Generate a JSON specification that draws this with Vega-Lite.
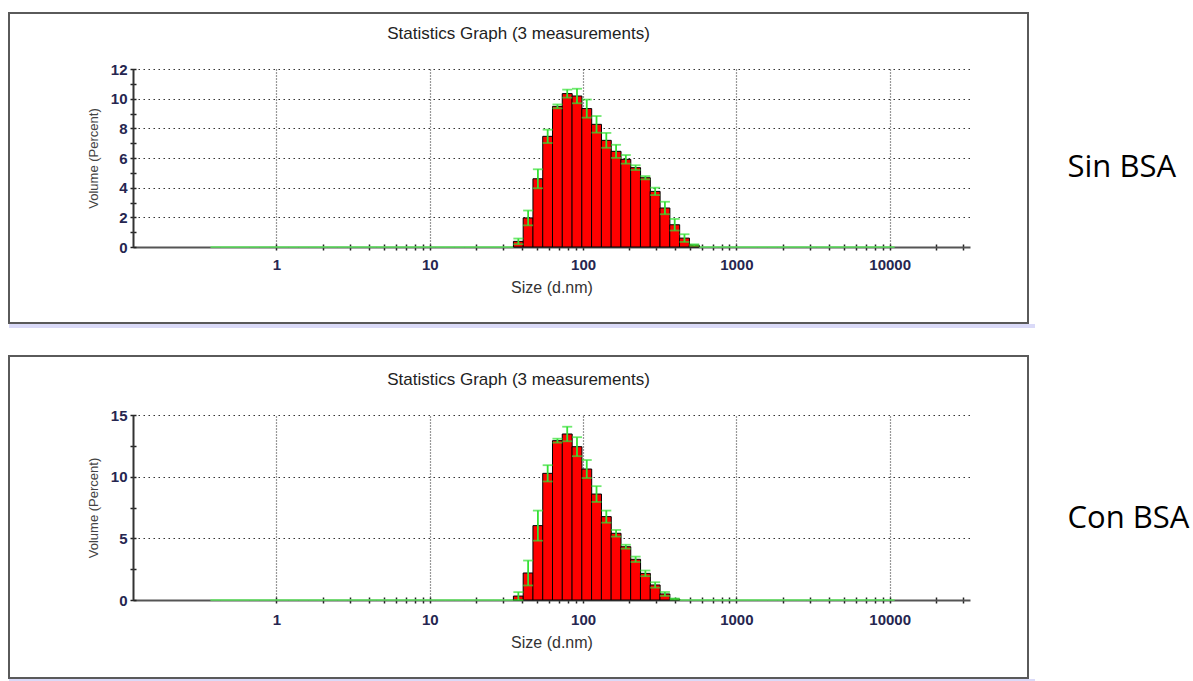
{
  "$schema": "https://vega.github.io/schema/vega-lite/v6.json",
  "background": "white",
  "padding": {"left": 8, "top": 12, "right": 0, "bottom": 0},
  "spacing": 27,
  "config": {
    "view": {"stroke": null},
    "font": "Liberation Sans"
  },
  "datasets": {
    "sin": [
      {"size": 0.4, "volume": 0, "sd": 0}, {"size": 0.4632, "volume": 0, "sd": 0}, {"size": 0.5365, "volume": 0, "sd": 0},
      {"size": 0.6213, "volume": 0, "sd": 0}, {"size": 0.7195, "volume": 0, "sd": 0}, {"size": 0.8332, "volume": 0, "sd": 0},
      {"size": 0.9649, "volume": 0, "sd": 0}, {"size": 1.117, "volume": 0, "sd": 0}, {"size": 1.294, "volume": 0, "sd": 0},
      {"size": 1.499, "volume": 0, "sd": 0}, {"size": 1.736, "volume": 0, "sd": 0}, {"size": 2.01, "volume": 0, "sd": 0},
      {"size": 2.328, "volume": 0, "sd": 0}, {"size": 2.696, "volume": 0, "sd": 0}, {"size": 3.122, "volume": 0, "sd": 0},
      {"size": 3.615, "volume": 0, "sd": 0}, {"size": 4.187, "volume": 0, "sd": 0}, {"size": 4.849, "volume": 0, "sd": 0},
      {"size": 5.615, "volume": 0, "sd": 0}, {"size": 6.503, "volume": 0, "sd": 0}, {"size": 7.531, "volume": 0, "sd": 0},
      {"size": 8.721, "volume": 0, "sd": 0}, {"size": 10.1, "volume": 0, "sd": 0}, {"size": 11.7, "volume": 0, "sd": 0},
      {"size": 13.54, "volume": 0, "sd": 0}, {"size": 15.69, "volume": 0, "sd": 0}, {"size": 18.17, "volume": 0, "sd": 0},
      {"size": 21.04, "volume": 0, "sd": 0}, {"size": 24.36, "volume": 0, "sd": 0}, {"size": 28.21, "volume": 0, "sd": 0},
      {"size": 32.67, "volume": 0, "sd": 0},
      {"size": 37.84, "volume": 0.38, "sd": 0.19}, {"size": 43.82, "volume": 1.96, "sd": 0.5},
      {"size": 50.75, "volume": 4.6, "sd": 0.64}, {"size": 58.77, "volume": 7.46, "sd": 0.45},
      {"size": 68.06, "volume": 9.48, "sd": 0.13}, {"size": 78.82, "volume": 10.34, "sd": 0.27},
      {"size": 91.28, "volume": 10.18, "sd": 0.49}, {"size": 105.7, "volume": 9.33, "sd": 0.61},
      {"size": 122.4, "volume": 8.27, "sd": 0.56}, {"size": 141.8, "volume": 7.19, "sd": 0.5},
      {"size": 164.2, "volume": 6.45, "sd": 0.44}, {"size": 190.1, "volume": 5.91, "sd": 0.29},
      {"size": 220.2, "volume": 5.35, "sd": 0.16}, {"size": 255, "volume": 4.67, "sd": 0.11},
      {"size": 295.3, "volume": 3.75, "sd": 0.25}, {"size": 342, "volume": 2.63, "sd": 0.42},
      {"size": 396.1, "volume": 1.5, "sd": 0.39}, {"size": 458.7, "volume": 0.6, "sd": 0.26},
      {"size": 531.2, "volume": 0.13, "sd": 0.05},
      {"size": 615.1, "volume": 0, "sd": 0}, {"size": 712.4, "volume": 0, "sd": 0}, {"size": 825, "volume": 0, "sd": 0},
      {"size": 955.4, "volume": 0, "sd": 0}, {"size": 1106, "volume": 0, "sd": 0}, {"size": 1281, "volume": 0, "sd": 0},
      {"size": 1484, "volume": 0, "sd": 0}, {"size": 1718, "volume": 0, "sd": 0}, {"size": 1990, "volume": 0, "sd": 0},
      {"size": 2305, "volume": 0, "sd": 0}, {"size": 2669, "volume": 0, "sd": 0}, {"size": 3091, "volume": 0, "sd": 0},
      {"size": 3580, "volume": 0, "sd": 0}, {"size": 4145, "volume": 0, "sd": 0}, {"size": 4801, "volume": 0, "sd": 0},
      {"size": 5560, "volume": 0, "sd": 0}, {"size": 6439, "volume": 0, "sd": 0}, {"size": 7456, "volume": 0, "sd": 0},
      {"size": 8635, "volume": 0, "sd": 0}, {"size": 10000, "volume": 0, "sd": 0}
    ],
    "con": [
      {"size": 0.4, "volume": 0, "sd": 0}, {"size": 0.4632, "volume": 0, "sd": 0}, {"size": 0.5365, "volume": 0, "sd": 0},
      {"size": 0.6213, "volume": 0, "sd": 0}, {"size": 0.7195, "volume": 0, "sd": 0}, {"size": 0.8332, "volume": 0, "sd": 0},
      {"size": 0.9649, "volume": 0, "sd": 0}, {"size": 1.117, "volume": 0, "sd": 0}, {"size": 1.294, "volume": 0, "sd": 0},
      {"size": 1.499, "volume": 0, "sd": 0}, {"size": 1.736, "volume": 0, "sd": 0}, {"size": 2.01, "volume": 0, "sd": 0},
      {"size": 2.328, "volume": 0, "sd": 0}, {"size": 2.696, "volume": 0, "sd": 0}, {"size": 3.122, "volume": 0, "sd": 0},
      {"size": 3.615, "volume": 0, "sd": 0}, {"size": 4.187, "volume": 0, "sd": 0}, {"size": 4.849, "volume": 0, "sd": 0},
      {"size": 5.615, "volume": 0, "sd": 0}, {"size": 6.503, "volume": 0, "sd": 0}, {"size": 7.531, "volume": 0, "sd": 0},
      {"size": 8.721, "volume": 0, "sd": 0}, {"size": 10.1, "volume": 0, "sd": 0}, {"size": 11.7, "volume": 0, "sd": 0},
      {"size": 13.54, "volume": 0, "sd": 0}, {"size": 15.69, "volume": 0, "sd": 0}, {"size": 18.17, "volume": 0, "sd": 0},
      {"size": 21.04, "volume": 0, "sd": 0}, {"size": 24.36, "volume": 0, "sd": 0}, {"size": 28.21, "volume": 0, "sd": 0},
      {"size": 32.67, "volume": 0, "sd": 0},
      {"size": 37.84, "volume": 0.32, "sd": 0.32}, {"size": 43.82, "volume": 2.19, "sd": 1.01},
      {"size": 50.75, "volume": 6.03, "sd": 1.22}, {"size": 58.77, "volume": 10.27, "sd": 0.66},
      {"size": 68.06, "volume": 12.92, "sd": 0.16}, {"size": 78.82, "volume": 13.46, "sd": 0.59},
      {"size": 91.28, "volume": 12.43, "sd": 0.77}, {"size": 105.7, "volume": 10.62, "sd": 0.73},
      {"size": 122.4, "volume": 8.59, "sd": 0.64}, {"size": 141.8, "volume": 6.76, "sd": 0.49},
      {"size": 164.2, "volume": 5.41, "sd": 0.27}, {"size": 190.1, "volume": 4.32, "sd": 0.16},
      {"size": 220.2, "volume": 3.3, "sd": 0.22}, {"size": 255, "volume": 2.16, "sd": 0.23},
      {"size": 295.3, "volume": 1.22, "sd": 0.22}, {"size": 342, "volume": 0.49, "sd": 0.16},
      {"size": 396.1, "volume": 0.08, "sd": 0.04},
      {"size": 458.7, "volume": 0, "sd": 0}, {"size": 531.2, "volume": 0, "sd": 0},
      {"size": 615.1, "volume": 0, "sd": 0}, {"size": 712.4, "volume": 0, "sd": 0}, {"size": 825, "volume": 0, "sd": 0},
      {"size": 955.4, "volume": 0, "sd": 0}, {"size": 1106, "volume": 0, "sd": 0}, {"size": 1281, "volume": 0, "sd": 0},
      {"size": 1484, "volume": 0, "sd": 0}, {"size": 1718, "volume": 0, "sd": 0}, {"size": 1990, "volume": 0, "sd": 0},
      {"size": 2305, "volume": 0, "sd": 0}, {"size": 2669, "volume": 0, "sd": 0}, {"size": 3091, "volume": 0, "sd": 0},
      {"size": 3580, "volume": 0, "sd": 0}, {"size": 4145, "volume": 0, "sd": 0}, {"size": 4801, "volume": 0, "sd": 0},
      {"size": 5560, "volume": 0, "sd": 0}, {"size": 6439, "volume": 0, "sd": 0}, {"size": 7456, "volume": 0, "sd": 0},
      {"size": 8635, "volume": 0, "sd": 0}, {"size": 10000, "volume": 0, "sd": 0}
    ]
  },
  "vconcat": [
    {
      "spacing": 0,
      "vconcat": [
        {
          "bounds": "flush",
          "spacing": 0,
          "hconcat": [
            {
              "width": 1019,
              "height": 310,
              "view": {"stroke": "#5a5a5a", "strokeWidth": 2, "fill": "white"},
              "title": {"text": "Statistics Graph (3 measurements)", "offset": -30, "frame": "group", "anchor": "middle", "font": "Liberation Sans", "fontSize": 17, "fontWeight": "normal", "color": "#222222"},
              "data": {"name": "sin"},
              "resolve": {"axis": {"x": "independent", "y": "independent"}},
              "layer": [
                {
                  "transform": [{"filter": "datum.volume == 0"}],
                  "mark": {"type": "tick", "orient": "horizontal", "size": 9.9, "thickness": 2, "color": "#60f060"},
                  "encoding": {
                    "x": {"field": "size", "type": "quantitative",
                      "scale": {"type": "log", "domain": [0.125, 31000], "range": [124, 961], "nice": false},
                      "axis": {"orient": "bottom", "offset": -79, "values": [1,2,3,4,5,6,7,8,9,10,20,30,40,50,60,70,80,90,100,200,300,400,500,600,700,800,900,1000,2000,3000,4000,5000,6000,7000,8000,9000,10000,20000,30000],
                        "tickSize": 6, "tickWidth": 1.5, "tickColor": "#222222", "domain": false, "labels": false, "grid": false, "title": null}},
                    "y": {"field": "volume", "type": "quantitative",
                      "scale": {"domain": [0, 12], "range": [234, 56], "nice": false, "zero": true},
                      "axis": {"orient": "left", "offset": -127, "values": [0,1,2,3,4,5,6,7,8,9,10,11,12],
                        "tickSize": 6, "tickWidth": 1.5, "tickColor": "#222222", "domain": false, "labels": false, "grid": false, "title": null}}
                  }
                },
                {
                  "transform": [{"filter": "datum.volume > 0"}],
                  "mark": {"type": "bar", "orient": "vertical", "width": 9.9, "fill": "#ff0000", "stroke": "#000000", "strokeWidth": 1},
                  "encoding": {
                    "x": {"field": "size", "type": "quantitative",
                      "scale": {"type": "log", "domain": [0.125, 31000], "range": [124, 961], "nice": false},
                      "axis": {"orient": "bottom", "offset": -76, "values": [1, 10, 100, 1000, 10000], "format": "d",
                        "ticks": false, "domain": true, "domainColor": "#555555", "domainWidth": 2, "grid": false,
                        "labelFont": "Liberation Sans", "labelFontSize": 15, "labelFontWeight": "bold", "labelColor": "#262650",
                        "labelPadding": 10, "labelFlush": false, "labelOverlap": false,
                        "title": "Size (d.nm)", "titleFont": "Liberation Sans", "titleFontSize": 16, "titleFontWeight": "normal", "titleColor": "#333333", "titlePadding": 7}},
                    "y": {"field": "volume", "type": "quantitative",
                      "scale": {"domain": [0, 12], "range": [234, 56], "nice": false, "zero": true},
                      "axis": {"orient": "left", "offset": -124, "values": [0, 2, 4, 6, 8, 10, 12],
                        "ticks": false, "domain": true, "domainColor": "#333333", "domainWidth": 2,
                        "grid": true, "gridDash": [1.5, 3.5], "gridColor": "#333333", "gridWidth": 1.2,
                        "labelFont": "Liberation Sans", "labelFontSize": 15, "labelFontWeight": "bold", "labelColor": "#262650", "labelPadding": 6,
                        "title": "Volume (Percent)", "titleFont": "Liberation Sans", "titleFontSize": 13, "titleFontWeight": "normal", "titleColor": "#444444", "titlePadding": 10}}
                  }
                },
                {
                  "transform": [{"filter": "datum.volume > 0"}],
                  "mark": {"type": "errorbar", "color": "#33e033", "thickness": 1.8, "ticks": {"size": 10, "thickness": 1.8, "color": "#33e033"}},
                  "encoding": {
                    "x": {"field": "size", "type": "quantitative",
                      "axis": {"orient": "top", "values": [1, 10, 100, 1000, 10000], "grid": true, "gridDash": [1, 2], "gridColor": "#333333", "gridWidth": 1.2,
                        "domain": false, "ticks": false, "labels": false, "title": null}},
                    "y": {"field": "volume", "type": "quantitative", "axis": null},
                    "yError": {"field": "sd"}
                  }
                }
              ]
            },
            {
              "width": 165,
              "height": 310,
              "data": {"values": [{"label": "Sin BSA"}]},
              "mark": {"type": "text", "font": "Open Sans", "fontSize": 31, "align": "left", "baseline": "alphabetic", "dx": -43, "dy": 9, "color": "#000000"},
              "encoding": {"text": {"field": "label"}}
            }
          ]
        },
        {
          "width": 1026,
          "height": 4,
          "view": {"fill": "#dadaf8", "stroke": null},
          "data": {"values": []},
          "mark": "point"
        }
      ]
    },
    {
      "spacing": 0,
      "vconcat": [
        {
          "bounds": "flush",
          "spacing": 0,
          "hconcat": [
            {
              "width": 1019,
              "height": 322,
              "view": {"stroke": "#5a5a5a", "strokeWidth": 2, "fill": "white"},
              "title": {"text": "Statistics Graph (3 measurements)", "offset": -33, "frame": "group", "anchor": "middle", "font": "Liberation Sans", "fontSize": 17, "fontWeight": "normal", "color": "#222222"},
              "data": {"name": "con"},
              "resolve": {"axis": {"x": "independent", "y": "independent"}},
              "layer": [
                {
                  "transform": [{"filter": "datum.volume == 0"}],
                  "mark": {"type": "tick", "orient": "horizontal", "size": 9.9, "thickness": 2, "color": "#60f060"},
                  "encoding": {
                    "x": {"field": "size", "type": "quantitative",
                      "scale": {"type": "log", "domain": [0.125, 31000], "range": [124, 961], "nice": false},
                      "axis": {"orient": "bottom", "offset": -81, "values": [1,2,3,4,5,6,7,8,9,10,20,30,40,50,60,70,80,90,100,200,300,400,500,600,700,800,900,1000,2000,3000,4000,5000,6000,7000,8000,9000,10000,20000,30000],
                        "tickSize": 6, "tickWidth": 1.5, "tickColor": "#222222", "domain": false, "labels": false, "grid": false, "title": null}},
                    "y": {"field": "volume", "type": "quantitative",
                      "scale": {"domain": [0, 15], "range": [244, 59], "nice": false, "zero": true},
                      "axis": {"orient": "left", "offset": -127, "values": [0, 2.5, 5, 7.5, 10, 12.5, 15],
                        "tickSize": 6, "tickWidth": 1.5, "tickColor": "#222222", "domain": false, "labels": false, "grid": false, "title": null}}
                  }
                },
                {
                  "transform": [{"filter": "datum.volume > 0"}],
                  "mark": {"type": "bar", "orient": "vertical", "width": 9.9, "fill": "#ff0000", "stroke": "#000000", "strokeWidth": 1},
                  "encoding": {
                    "x": {"field": "size", "type": "quantitative",
                      "scale": {"type": "log", "domain": [0.125, 31000], "range": [124, 961], "nice": false},
                      "axis": {"orient": "bottom", "offset": -78, "values": [1, 10, 100, 1000, 10000], "format": "d",
                        "ticks": false, "domain": true, "domainColor": "#555555", "domainWidth": 2, "grid": false,
                        "labelFont": "Liberation Sans", "labelFontSize": 15, "labelFontWeight": "bold", "labelColor": "#262650",
                        "labelPadding": 12, "labelFlush": false, "labelOverlap": false,
                        "title": "Size (d.nm)", "titleFont": "Liberation Sans", "titleFontSize": 16, "titleFontWeight": "normal", "titleColor": "#333333", "titlePadding": 7}},
                    "y": {"field": "volume", "type": "quantitative",
                      "scale": {"domain": [0, 15], "range": [244, 59], "nice": false, "zero": true},
                      "axis": {"orient": "left", "offset": -124, "values": [0, 5, 10, 15],
                        "ticks": false, "domain": true, "domainColor": "#333333", "domainWidth": 2,
                        "grid": true, "gridDash": [1.5, 3.5], "gridColor": "#333333", "gridWidth": 1.2,
                        "labelFont": "Liberation Sans", "labelFontSize": 15, "labelFontWeight": "bold", "labelColor": "#262650", "labelPadding": 6,
                        "title": "Volume (Percent)", "titleFont": "Liberation Sans", "titleFontSize": 13, "titleFontWeight": "normal", "titleColor": "#444444", "titlePadding": 10}}
                  }
                },
                {
                  "transform": [{"filter": "datum.volume > 0"}],
                  "mark": {"type": "errorbar", "color": "#33e033", "thickness": 1.8, "ticks": {"size": 10, "thickness": 1.8, "color": "#33e033"}},
                  "encoding": {
                    "x": {"field": "size", "type": "quantitative",
                      "axis": {"orient": "top", "values": [1, 10, 100, 1000, 10000], "grid": true, "gridDash": [1, 2], "gridColor": "#333333", "gridWidth": 1.2,
                        "domain": false, "ticks": false, "labels": false, "title": null}},
                    "y": {"field": "volume", "type": "quantitative", "axis": null},
                    "yError": {"field": "sd"}
                  }
                }
              ]
            },
            {
              "width": 165,
              "height": 322,
              "data": {"values": [{"label": "Con BSA"}]},
              "mark": {"type": "text", "font": "Open Sans", "fontSize": 31, "align": "left", "baseline": "alphabetic", "dx": -43, "dy": 11, "color": "#000000"},
              "encoding": {"text": {"field": "label"}}
            }
          ]
        },
        {
          "width": 1026,
          "height": 3,
          "view": {"fill": "#dadaf8", "stroke": null},
          "data": {"values": []},
          "mark": "point"
        }
      ]
    }
  ]
}
